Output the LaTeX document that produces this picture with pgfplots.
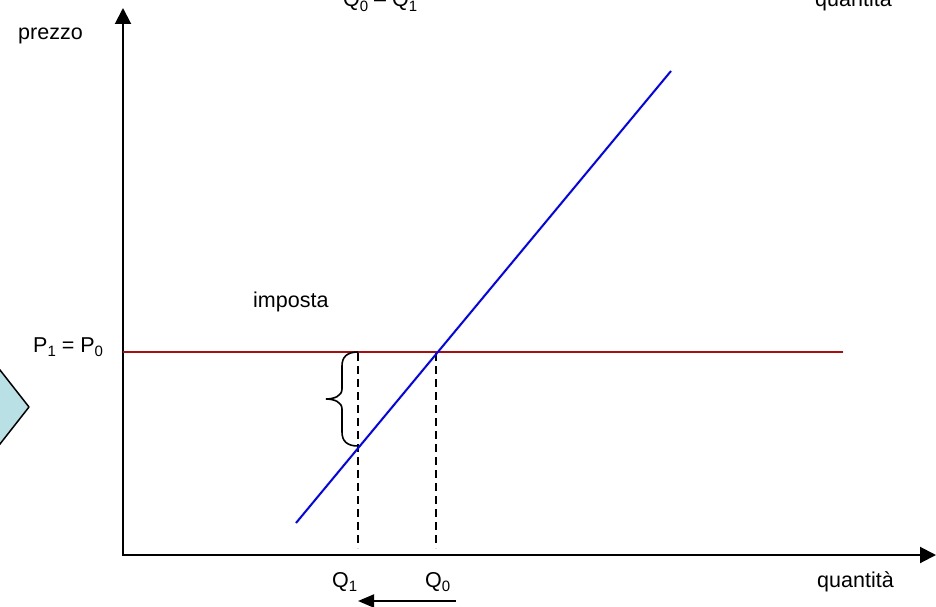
\documentclass[border=0pt]{standalone}
\usepackage{pgfplots}
\pgfplotsset{compat=1.18}
\usetikzlibrary{arrows.meta}
\usepackage{fontspec}
\setmainfont{Liberation Sans}
\definecolor{diam}{RGB}{185,225,229}
\definecolor{darkred}{RGB}{165,15,15}
\newcommand\sub[1]{\raisebox{-0.22em}{\fontsize{15bp}{15bp}\selectfont #1}}
\newcommand\lbl{\fontsize{21.5bp}{25bp}\selectfont}
\begin{document}
\begin{tikzpicture}
\begin{axis}[name=ax, scale only axis, width=936bp, height=607bp,
  xmin=0, xmax=936, ymin=0, ymax=607, y dir=reverse, hide axis, clip=true]
% diamond (partially visible)
\addplot[fill=diam, draw=black, line width=1.5bp] coordinates {(29,407) (-40,319) (-109,407) (-40,495) (29,407)};
% axes
\addplot[black, line width=2bp, -{Triangle[length=16bp,width=16bp]}] coordinates {(123,556) (123,8)};
\addplot[black, line width=2bp, -{Triangle[length=16bp,width=16bp]}] coordinates {(122,555) (936,555)};
% dashed verticals
\addplot[black, line width=2bp, dash pattern=on 8bp off 5bp] coordinates {(358,353) (358,548)};
\addplot[black, line width=2bp, dash pattern=on 8bp off 5bp] coordinates {(436,353) (436,548)};
% price line
\addplot[darkred, line width=2bp] coordinates {(123,352) (843,352)};
% supply line
\addplot[blue, line width=2bp] coordinates {(296,523) (671,71)};
% brace
\draw[black, line width=1.6bp] (358,352) .. controls (347,352) and (342,357) .. (342,366) -- (342,389)
  .. controls (342,396) and (334,399) .. (326,399)
  .. controls (334,399) and (342,402) .. (342,409) -- (342,432)
  .. controls (342,441) and (347,446) .. (358,446);
% bottom arrow
\addplot[black, line width=2bp, -{Triangle[length=16bp,width=13bp]}] coordinates {(456,601) (358,601)};
% labels
\node[anchor=base west, inner sep=0pt, font=\lbl] at (18,40) {prezzo};
\node[anchor=base west, inner sep=0pt, font=\lbl] at (343,7) {Q\sub{0} – Q\sub{1}};
\node[anchor=base west, inner sep=0pt, font=\lbl] at (815,7) {quantità};
\node[anchor=base west, inner sep=0pt, font=\lbl] at (253,307) {imposta};
\node[anchor=base west, inner sep=0pt, font=\lbl] at (33,352) {P\sub{1} = P\sub{0}};
\node[anchor=base west, inner sep=0pt, font=\lbl] at (332,587) {Q\sub{1}};
\node[anchor=base west, inner sep=0pt, font=\lbl] at (425,587) {Q\sub{0}};
\node[anchor=base west, inner sep=0pt, font=\lbl] at (817,587) {quantità};
\end{axis}
\pgfresetboundingbox
\path[use as bounding box] (ax.south west) rectangle (ax.north east);
\end{tikzpicture}
\end{document}
